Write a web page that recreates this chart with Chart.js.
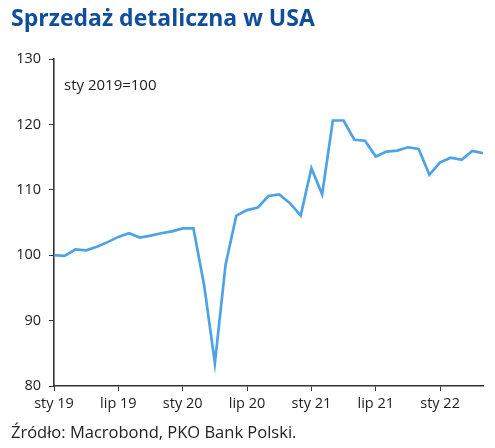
<!DOCTYPE html>
<html>
<head>
<meta charset="utf-8">
<script src="https://cdn.jsdelivr.net/npm/chart.js@4.4.1/dist/chart.umd.min.js"></script>
<style>
  html, body { margin: 0; padding: 0; background: #fff; }
  #wrap { position: relative; width: 495px; height: 448px; font-family: 'Open Sans', sans-serif; }
  #title { position: absolute; left: 11px; top: 1px; font-size: 23px; font-weight: bold; color: #104e9b; white-space: nowrap; }
  #note { position: absolute; left: 64px; top: 74px; font-size: 15px; color: #222; }
  #source { position: absolute; left: 11px; top: 420px; font-size: 16.5px; color: #222; white-space: nowrap; }
  canvas { position: absolute; left: 0; top: 0; }
</style>
</head>
<body>
<div id="wrap">
  <canvas id="chart" width="495" height="448"></canvas>
  <div id="title">Sprzedaż detaliczna w USA</div>
  <div id="note">sty 2019=100</div>
  <div id="source">Źródło: Macrobond, PKO Bank Polski.</div>
</div>
<script>
// monthly, sty 2019 .. maj 2022
const months = [
  'sty 19', 'lut 19', 'mar 19', 'kwi 19', 'maj 19', 'cze 19', 'lip 19', 'sie 19', 'wrz 19', 'paź 19', 'lis 19', 'gru 19',
  'sty 20', 'lut 20', 'mar 20', 'kwi 20', 'maj 20', 'cze 20', 'lip 20', 'sie 20', 'wrz 20', 'paź 20', 'lis 20', 'gru 20',
  'sty 21', 'lut 21', 'mar 21', 'kwi 21', 'maj 21', 'cze 21', 'lip 21', 'sie 21', 'wrz 21', 'paź 21', 'lis 21', 'gru 21',
  'sty 22', 'lut 22', 'mar 22', 'kwi 22', 'maj 22'
];
const retailSales = [
  100.0, 99.9, 100.9, 100.75, 101.3, 102.0, 102.8, 103.35, 102.7, 103.0, 103.35, 103.65,
  104.1, 104.1, 95.4, 83.5, 98.6, 106.05, 106.9, 107.3, 109.05, 109.3, 107.95, 106.05,
  113.3, 109.3, 120.6, 120.6, 117.65, 117.5, 115.1, 115.85, 116.0, 116.5, 116.25, 112.3,
  114.2, 114.9, 114.6, 115.95, 115.6
];
const yTicks = [80, 90, 100, 110, 120, 130];

const points = retailSales.map((v, i) => ({ x: i, y: v }));
const font = { family: "'Open Sans', sans-serif", size: 14.5 };

new Chart(document.getElementById('chart'), {
  type: 'line',
  data: {
    datasets: [{
      data: points,
      borderColor: '#4ea2e6',
      borderWidth: 2.7,
      pointRadius: 0,
      tension: 0,
      fill: false
    }]
  },
  options: {
    responsive: false,
    animation: false,
    layout: { padding: { left: 0, right: 12, top: 59, bottom: 0 } },
    plugins: { legend: { display: false }, tooltip: { enabled: false } },
    scales: {
      x: {
        type: 'linear',
        min: 0,
        max: months.length - 1,
        afterFit: s => { s.height = 62; },
        afterBuildTicks: s => { s.ticks = months.map((m, i) => ({ value: i })).filter(t => t.value % 6 === 0); },
        ticks: {
          autoSkip: false,
          maxRotation: 0,
          padding: 4,
          color: '#222',
          font: font,
          callback: v => months[v]
        },
        grid: { drawOnChartArea: false, tickLength: 5, color: '#333', tickColor: '#333' },
        border: { color: '#333', width: 1.6 }
      },
      y: {
        min: 80,
        max: 130,
        afterFit: s => { s.width = 54; },
        afterBuildTicks: s => { s.ticks = yTicks.map(v => ({ value: v })); },
        ticks: { padding: 8, color: '#222', font: font },
        grid: { drawOnChartArea: false, tickLength: 5, color: '#333', tickColor: '#333' },
        border: { color: '#333', width: 1.6 }
      }
    }
  }
});
</script>
</body>
</html>
